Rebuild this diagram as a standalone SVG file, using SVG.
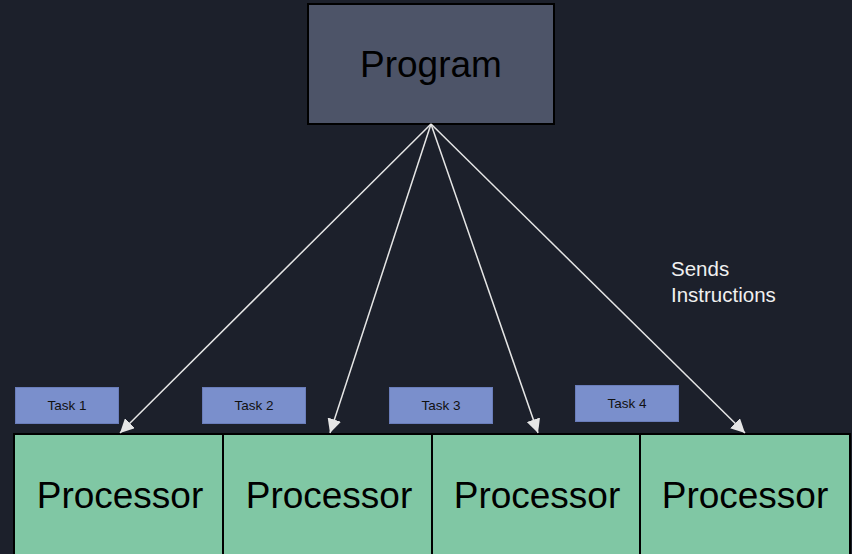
<svg xmlns="http://www.w3.org/2000/svg" width="852" height="554" viewBox="0 0 852 554">
<defs>
<style>
.proc{fill:#80c7a4;stroke:#000;stroke-width:2}
.proct{font-family:"Liberation Sans",Arial,sans-serif;font-size:37px;fill:#000;text-anchor:middle}
.task{fill:#7a8fcc;stroke:#6a7dba;stroke-width:1}
.taskt{font-family:"Liberation Sans",Arial,sans-serif;font-size:13.5px;fill:#111;text-anchor:middle}
.conn{stroke:#e6e6e6;stroke-width:1.5;fill:none;marker-end:url(#ah)}
</style>
<marker id="ah" viewBox="0 0 10 10" refX="10" refY="5" markerWidth="14" markerHeight="14" markerUnits="userSpaceOnUse" orient="auto">
<path d="M0,0 L10,5 L0,10 z" fill="#e6e6e6"/>
</marker>
</defs>
<rect width="852" height="554" fill="#1c202b"/>
<g id="program">
<rect x="308" y="4" width="246" height="120" fill="#4d5468" stroke="#000" stroke-width="2"/>
<text x="431" y="77" font-family="'Liberation Sans',Arial,sans-serif" font-size="37" fill="#000" text-anchor="middle">Program</text>
</g>
<g id="task1"><rect class="task" x="15.5" y="387.5" width="103" height="36"/><text class="taskt" x="67" y="410">Task 1</text></g>
<g id="task2"><rect class="task" x="202.5" y="387.5" width="103" height="36"/><text class="taskt" x="254" y="410">Task 2</text></g>
<g id="task3"><rect class="task" x="389.5" y="387.5" width="103" height="36"/><text class="taskt" x="441" y="410">Task 3</text></g>
<g id="task4"><rect class="task" x="575.5" y="385.5" width="103" height="36"/><text class="taskt" x="627" y="408">Task 4</text></g>
<g id="proc1"><rect class="proc" x="14" y="434" width="209" height="125"/><text class="proct" x="120" y="508">Processor</text></g>
<g id="proc2"><rect class="proc" x="223" y="434" width="209" height="125"/><text class="proct" x="329" y="508">Processor</text></g>
<g id="proc3"><rect class="proc" x="432" y="434" width="208" height="125"/><text class="proct" x="537" y="508">Processor</text></g>
<g id="proc4"><rect class="proc" x="640" y="434" width="210" height="125"/><text class="proct" x="745" y="508">Processor</text></g>
<g id="connectors">
<line class="conn" x1="431" y1="124" x2="120" y2="433"/>
<line class="conn" x1="431" y1="124" x2="330" y2="433"/>
<line class="conn" x1="431" y1="124" x2="538" y2="433"/>
<line class="conn" x1="431" y1="124" x2="745" y2="433"/>
</g>
<g id="label">
<text font-family="'Liberation Sans',Arial,sans-serif" font-size="20.5" fill="#f0f0f0"><tspan x="671" y="276">Sends</tspan><tspan x="671" y="302">Instructions</tspan></text>
</g>
</svg>
